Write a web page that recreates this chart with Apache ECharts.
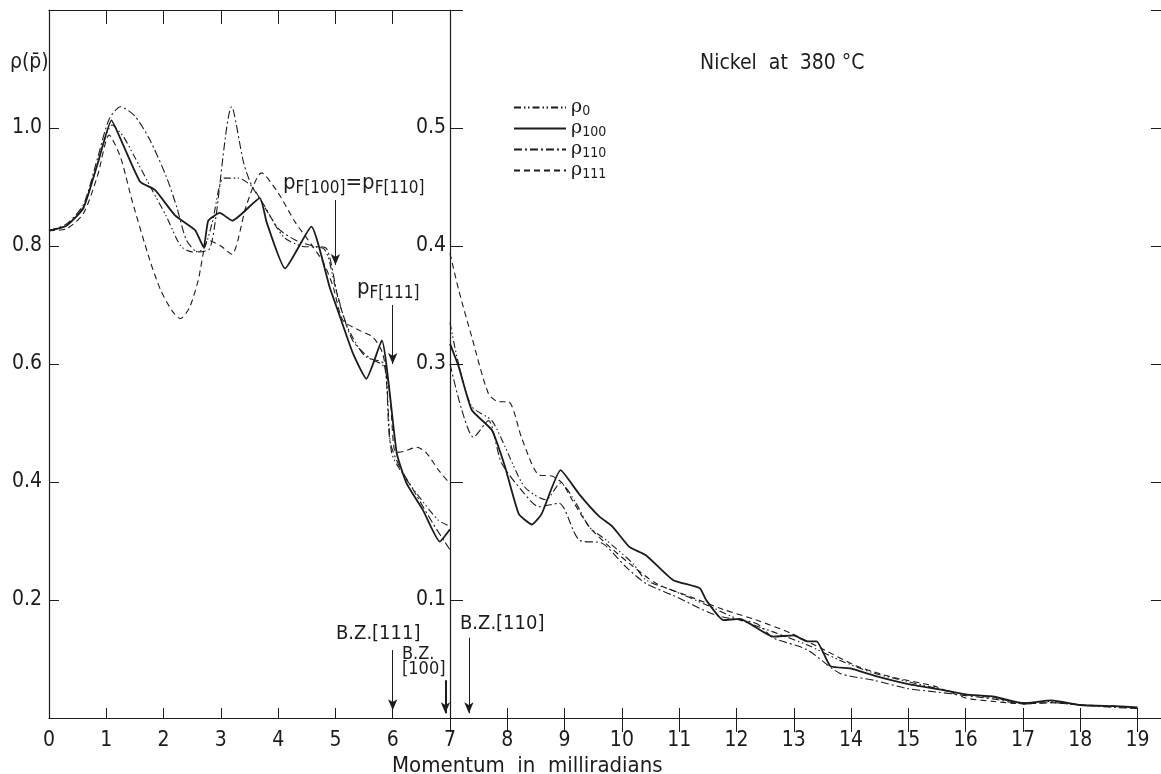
<!DOCTYPE html>
<html><head><meta charset="utf-8">
<script src="https://cdn.jsdelivr.net/npm/echarts/dist/echarts.min.js"></script>
<style>html,body{margin:0;padding:0;background:#fff}#c{width:1161px;height:774px}</style>
</head><body><div id="c"></div>
<script>
// ---------- data (momentum in mrad, density) ----------
// left panel: x 0..7, left axis
const rho0Left = [[0,0.826],[0.3,0.835],[0.6,0.866],[0.85,0.94],[1.1,1.005],[1.3,0.985],[1.5,0.95],[1.8,0.895],[2.05,0.85],[2.3,0.80],[2.5,0.79],[2.7,0.795],[2.85,0.84],[3.05,0.915],[3.3,0.915],[3.55,0.90],[3.8,0.86],[4.1,0.815],[4.4,0.80],[4.8,0.795],[5.0,0.73],[5.2,0.665],[5.5,0.615],[5.8,0.60],[5.88,0.59],[5.98,0.45],[6.2,0.41],[6.5,0.37],[6.8,0.335],[7,0.325]];
const rho100Left = [[0,0.826],[0.3,0.834],[0.6,0.864],[0.85,0.94],[1.09,1.013],[1.3,0.97],[1.59,0.909],[1.85,0.895],[2.2,0.852],[2.55,0.827],[2.7,0.798],[2.78,0.843],[2.98,0.856],[3.2,0.843],[3.68,0.881],[3.8,0.84],[4.12,0.762],[4.58,0.833],[4.9,0.73],[5.08,0.68],[5.31,0.617],[5.54,0.575],[5.81,0.64],[6.07,0.449],[6.24,0.398],[6.53,0.352],[6.82,0.299],[7,0.32]];
const rho110Left = [[0,0.826],[0.3,0.837],[0.6,0.87],[0.85,0.95],[1.05,1.015],[1.25,1.036],[1.5,1.02],[1.76,0.98],[2.05,0.917],[2.23,0.866],[2.4,0.81],[2.6,0.79],[2.8,0.795],[2.9,0.84],[3.19,1.036],[3.4,0.94],[3.55,0.90],[3.75,0.87],[4.0,0.83],[4.3,0.81],[4.6,0.80],[4.85,0.795],[5.05,0.71],[5.3,0.64],[5.6,0.61],[5.85,0.60],[5.95,0.47],[6.1,0.43],[6.4,0.38],[6.7,0.33],[7,0.285]];
const rho111Left = [[0,0.826],[0.3,0.829],[0.6,0.855],[0.85,0.92],[1.05,0.988],[1.25,0.95],[1.45,0.877],[1.76,0.776],[1.95,0.725],[2.15,0.69],[2.29,0.677],[2.45,0.695],[2.6,0.74],[2.78,0.81],[3.0,0.80],[3.19,0.786],[3.45,0.87],[3.71,0.924],[4.0,0.89],[4.3,0.84],[4.6,0.80],[4.8,0.77],[4.96,0.731],[5.13,0.674],[5.42,0.657],[5.65,0.646],[5.82,0.619],[5.95,0.55],[6.05,0.45],[6.2,0.452],[6.42,0.459],[6.59,0.449],[6.8,0.42],[7,0.397]];
// right panel: x 7..19, right axis (magnified x2)
const rho0Right = [[7,0.335],[7.15,0.30],[7.38,0.264],[7.73,0.252],[7.96,0.23],[8.3,0.196],[8.67,0.185],[8.93,0.199],[9.2,0.182],[9.43,0.162],[9.72,0.151],[10.19,0.131],[10.42,0.117],[10.89,0.108],[11.47,0.096],[12.06,0.083],[12.64,0.073],[13.23,0.062],[13.8,0.049],[14.4,0.038],[14.98,0.031],[15.5,0.025],[16.0,0.02],[16.5,0.017],[17.0,0.013],[17.5,0.014],[18.0,0.011],[18.6,0.01],[19,0.008]];
const rho100Right = [[7,0.317],[7.15,0.298],[7.38,0.261],[7.73,0.244],[7.96,0.213],[8.2,0.173],[8.43,0.164],[8.6,0.173],[8.93,0.21],[9.25,0.19],[9.6,0.171],[9.84,0.162],[10.13,0.145],[10.42,0.138],[10.89,0.117],[11.36,0.11],[11.47,0.10],[11.77,0.083],[12.06,0.084],[12.64,0.069],[13.0,0.07],[13.23,0.065],[13.4,0.065],[13.64,0.044],[13.99,0.042],[14.4,0.036],[14.98,0.029],[15.57,0.024],[16.0,0.02],[16.5,0.018],[17.0,0.0125],[17.5,0.015],[18.0,0.011],[18.6,0.01],[19,0.009]];
const rho110Right = [[7,0.30],[7.2,0.262],[7.41,0.238],[7.67,0.252],[7.9,0.216],[8.3,0.19],[8.55,0.179],[8.9,0.182],[9.25,0.151],[9.66,0.148],[10.07,0.128],[10.42,0.114],[10.89,0.104],[11.65,0.087],[12.35,0.08],[12.64,0.068],[13.23,0.058],[13.8,0.038],[14.4,0.032],[14.98,0.025],[15.5,0.022],[16.0,0.019],[16.5,0.016],[17.0,0.012],[17.5,0.013],[18.0,0.011],[18.6,0.009],[19,0.008]];
const rho111Right = [[7,0.394],[7.15,0.363],[7.38,0.323],[7.67,0.275],[7.85,0.268],[8.02,0.268],[8.26,0.236],[8.55,0.206],[8.78,0.205],[8.96,0.199],[9.13,0.185],[9.43,0.162],[9.72,0.148],[10.13,0.131],[10.6,0.114],[11.18,0.103],[11.77,0.092],[12.35,0.083],[12.94,0.072],[13.52,0.058],[14.1,0.044],[14.69,0.035],[15.45,0.027],[16.0,0.017],[16.5,0.014],[17.0,0.012],[17.5,0.013],[18.0,0.011],[18.6,0.01],[19,0.008]];
// annotation positions (mrad)
const pF100 = 5.0, pF111 = 6.0;
const bz111 = 6.0, bz100 = 6.92, bz110 = 7.33;
const xTicks = [0,1,2,3,4,5,6,7,8,9,10,11,12,13,14,15,16,17,18,19];
const leftTickLabels = [0.2,0.4,0.6,0.8,1.0];
const rightTickLabels = [0.1,0.3,0.4,0.5];

// ---------- styling ----------
const INK = '#1c1c1c';
const FONT = "'Liberation Sans Narrow','DejaVu Sans Condensed','Liberation Sans',sans-serif";
const LS = {
  rho0:   {type:[7,3,1.5,2.5,1.5,3], width:1.1},
  rho100: {type:'solid', width:1.8},
  rho110: {type:[8,3,2,3], width:1.1},
  rho111: {type:[6,4], width:1.1}
};
const SM = {rho0:0.25, rho100:0.15, rho110:0.25, rho111:0.25};
const SUB = {rho0:'0', rho100:'100', rho110:'110', rho111:'111'};

function line(name, data, gi){
  return {type:'line', name, xAxisIndex:gi, yAxisIndex:gi, data, symbol:'none', showSymbol:false,
    smooth:SM[name], silent:true, lineStyle:Object.assign({color:INK}, LS[name]), itemStyle:{color:INK}, z:3};
}
function hasLabel(list, v){ return list.some(t => Math.abs(t - v) < 1e-6); }

const axisLine = {show:true, lineStyle:{color:INK, width:1.2}};
const tick = len => ({show:true, inside:true, length:len, lineStyle:{color:INK, width:1}});
const lab = {color:INK, fontFamily:FONT, fontSize:21};

const arrowLine = (x, y1, y2, w) => [{coord:[x,y1], lineStyle:{width:w||1}}, {coord:[x,y2]}];
const subRich = {p:{fontSize:22, fontFamily:FONT, fill:INK}, s:{fontSize:17, fontFamily:FONT, fill:INK, padding:[12,0,0,0]}};

const option = {
  animation:false,
  backgroundColor:'#fff',
  grid:[
    {left:49, top:10, width:401, height:708},
    {left:450, top:10, width:711, height:708}
  ],
  xAxis:[
    {gridIndex:0, type:'value', min:0, max:7, interval:1, position:'bottom',
      axisLine, axisTick:tick(10), splitLine:{show:false},
      axisLabel:Object.assign({margin:12, formatter:v => hasLabel(xTicks,v) ? String(v) : ''}, lab)},
    {gridIndex:1, type:'value', min:7, max:19.41, interval:1, position:'bottom',
      axisLine, axisTick:tick(10), splitLine:{show:false},
      axisLabel:Object.assign({margin:12, showMaxLabel:false, formatter:v => (v>7.5 && hasLabel(xTicks,v)) ? String(v) : ''}, lab)},
    {gridIndex:0, type:'value', min:0, max:7, interval:1, position:'top',
      axisLine, axisTick:tick(14), axisLabel:{show:false}, splitLine:{show:false}},
    {gridIndex:1, type:'value', min:7, max:19.41, interval:1, position:'top',
      axisLine, axisTick:tick(14), axisLabel:{show:false}, splitLine:{show:false}}
  ],
  yAxis:[
    {gridIndex:0, type:'value', min:0, max:1.2, interval:0.2, position:'left',
      axisLine, axisTick:tick(10), splitLine:{show:false},
      axisLabel:Object.assign({margin:7, formatter:v => hasLabel(leftTickLabels,v) ? v.toFixed(1) : ''}, lab)},
    {gridIndex:1, type:'value', min:0, max:0.6, interval:0.1, position:'left',
      axisLine, axisTick:tick(13), splitLine:{show:false},
      axisLabel:Object.assign({margin:4, formatter:v => hasLabel(rightTickLabels,v) ? v.toFixed(1) : ''}, lab)},
    {gridIndex:1, type:'value', min:0, max:0.6, interval:0.1, position:'right',
      axisLine:{show:false}, axisTick:tick(10), axisLabel:{show:false}, splitLine:{show:false}}
  ],
  legend:{
    left:508, top:92, orient:'vertical', itemWidth:52, itemHeight:12, itemGap:0,
    data:['rho0','rho100','rho110','rho111'], selectedMode:false,
    itemStyle:{color:'transparent', borderColor:'transparent', borderWidth:0, opacity:0},
    formatter: n => '{r|ρ}{s|' + SUB[n] + '}',
    textStyle:{color:INK, fontFamily:FONT, rich:{
      r:{fontSize:19, fontFamily:'DejaVu Serif', color:INK, lineHeight:20},
      s:{fontSize:14, fontFamily:FONT, color:INK, lineHeight:20, padding:[7,0,0,0]}}}
  },
  series:[
    line('rho0', rho0Left, 0), line('rho100', rho100Left, 0), line('rho110', rho110Left, 0), line('rho111', rho111Left, 0),
    line('rho0', rho0Right, 1), line('rho100', rho100Right, 1), line('rho110', rho110Right, 1), line('rho111', rho111Right, 1),
    {type:'line', xAxisIndex:0, yAxisIndex:0, data:[], silent:true,
      markLine:{silent:true, symbol:['none','arrow'], symbolSize:[7,11], label:{show:false},
        lineStyle:{color:INK, type:'solid', width:1},
        data:[arrowLine(pF100,0.878,0.768), arrowLine(pF111,0.70,0.60), arrowLine(bz111,0.115,0.013), arrowLine(bz100,0.064,0.008,2)]}},
    {type:'line', xAxisIndex:1, yAxisIndex:1, data:[], silent:true,
      markLine:{silent:true, symbol:['none','arrow'], symbolSize:[7,11], label:{show:false},
        lineStyle:{color:INK, type:'solid', width:1},
        data:[arrowLine(bz110,0.068,0.004)]}}
  ],
  graphic:[
    {type:'text', left:10, top:52, style:{text:'ρ(p̄)', fill:INK, font:"21px "+FONT}},
    {type:'text', left:700, top:53, style:{text:'Nickel  at  380 °C', fill:INK, font:"21px "+FONT}},
    {type:'text', left:392, top:755, style:{text:'Momentum  in  milliradians', fill:INK, font:"22px "+FONT}},
    {type:'text', left:283, top:172, style:{text:'{p|p}{s|F[100]}{p|=p}{s|F[110]}', fill:INK, rich:subRich}},
    {type:'text', left:357, top:277, style:{text:'{p|p}{s|F[111]}', fill:INK, rich:subRich}},
    {type:'text', left:336, top:624, style:{text:'B.Z.[111]', fill:INK, font:"20px "+FONT}},
    {type:'text', left:402, top:645, style:{text:'B.Z.\n[100]', fill:INK, font:"18px "+FONT, lineHeight:15, align:'right'}},
    {type:'text', left:460, top:614, style:{text:'B.Z.[110]', fill:INK, font:"20px "+FONT}}
  ]
};
const chart = echarts.init(document.getElementById('c'));
chart.setOption(option);
</script></body></html>
